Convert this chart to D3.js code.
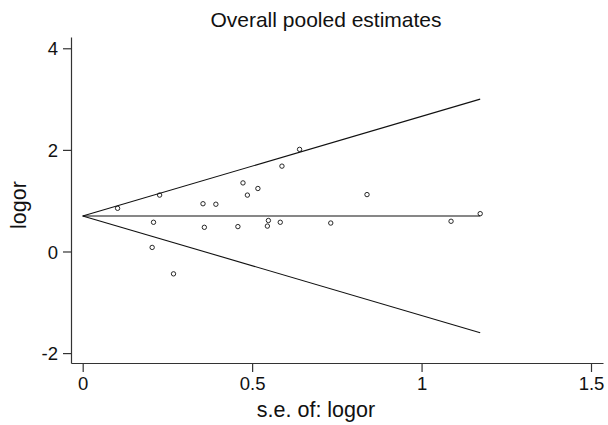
<!DOCTYPE html>
<html>
<head>
<meta charset="utf-8">
<script src="https://cdn.jsdelivr.net/npm/d3@7"></script>
<style>
  body { margin: 0; background: #fff; }
  text { font-family: "Liberation Sans", Arial, sans-serif; fill: #111; }
</style>
</head>
<body>
<script>
// study estimates
var se    = [0.103, 0.227, 0.355, 0.393, 0.473, 0.486, 0.517, 0.209, 0.359, 0.458, 0.205,
             0.268, 0.640, 0.588, 0.839, 0.548, 0.545, 0.583, 0.732, 1.087, 1.173];
var logor = [0.85, 1.11, 0.94, 0.93, 1.35, 1.11, 1.24, 0.575, 0.476, 0.49, 0.08,
             -0.44, 2.01, 1.68, 1.12, 0.61, 0.50, 0.575, 0.56, 0.595, 0.745];
var pooled = 0.70;
var xTicks = [0, 0.5, 1, 1.5];
var yTicks = [-2, 0, 2, 4];

var width = 608, height = 425;

var svg = d3.select("body").append("svg")
    .attr("width", width)
    .attr("height", height);

var x = d3.scaleLinear().domain([-0.0345, 1.5354]).range([71, 603]);
var y = d3.scaleLinear().domain([-2.195, 4.222]).range([363, 37]);

var data = se.map(function(d, i) { return {se: d, logor: logor[i]}; });
var seMax = d3.max(se);

// axes (plain hyphen for negatives, like the original)
var fmt = function(d) { return String(d); };
var xAxis = svg.append("g")
    .attr("transform", "translate(0," + 363 + ")")
    .call(d3.axisBottom(x).tickValues(xTicks).tickFormat(fmt).tickSize(9).tickSizeOuter(0).tickPadding(5));
var yAxis = svg.append("g")
    .attr("transform", "translate(" + 71 + ",0)")
    .call(d3.axisLeft(y).tickValues(yTicks).tickFormat(fmt).tickSize(8).tickSizeOuter(0).tickPadding(5));

[xAxis, yAxis].forEach(function(a) {
  a.selectAll("path, line").attr("stroke", "#333").attr("stroke-width", 1.2);
  a.selectAll("text").style("font-size", "18.5px").attr("fill", "#111")
    .style("font-family", '"Liberation Sans", Arial, sans-serif');
});
yAxis.selectAll("text").attr("dy", "0.36em");

// pooled line and pseudo 95% limits
var lines = [
  [[0, pooled], [seMax, pooled]],
  [[0, pooled], [seMax, pooled + 1.96 * seMax]],
  [[0, pooled], [seMax, pooled - 1.96 * seMax]]
];
var line = d3.line()
    .x(function(d) { return x(d[0]); })
    .y(function(d) { return y(d[1]); });
svg.selectAll(".lim")
    .data(lines)
    .enter().append("path")
    .attr("class", "lim")
    .attr("d", line)
    .attr("fill", "none")
    .attr("stroke", "#111")
    .attr("stroke-width", 1.1);

svg.selectAll(".dot")
    .data(data)
    .enter().append("circle")
    .attr("class", "dot")
    .attr("cx", function(d) { return x(d.se); })
    .attr("cy", function(d) { return y(d.logor); })
    .attr("r", 2.2)
    .attr("fill", "none")
    .attr("stroke", "#111")
    .attr("stroke-width", 0.9);

svg.append("text")
    .attr("x", 326)
    .attr("y", 27)
    .style("text-anchor", "middle")
    .style("font-size", "21px")
    .text("Overall pooled estimates");

svg.append("text")
    .attr("x", 316)
    .attr("y", 417)
    .style("text-anchor", "middle")
    .style("font-size", "21.5px")
    .text("s.e. of: logor");

svg.append("text")
    .attr("transform", "translate(" + 26 + "," + 205 + ") rotate(-90)")
    .style("text-anchor", "middle")
    .style("font-size", "21.5px")
    .text("logor");
</script>
</body>
</html>
